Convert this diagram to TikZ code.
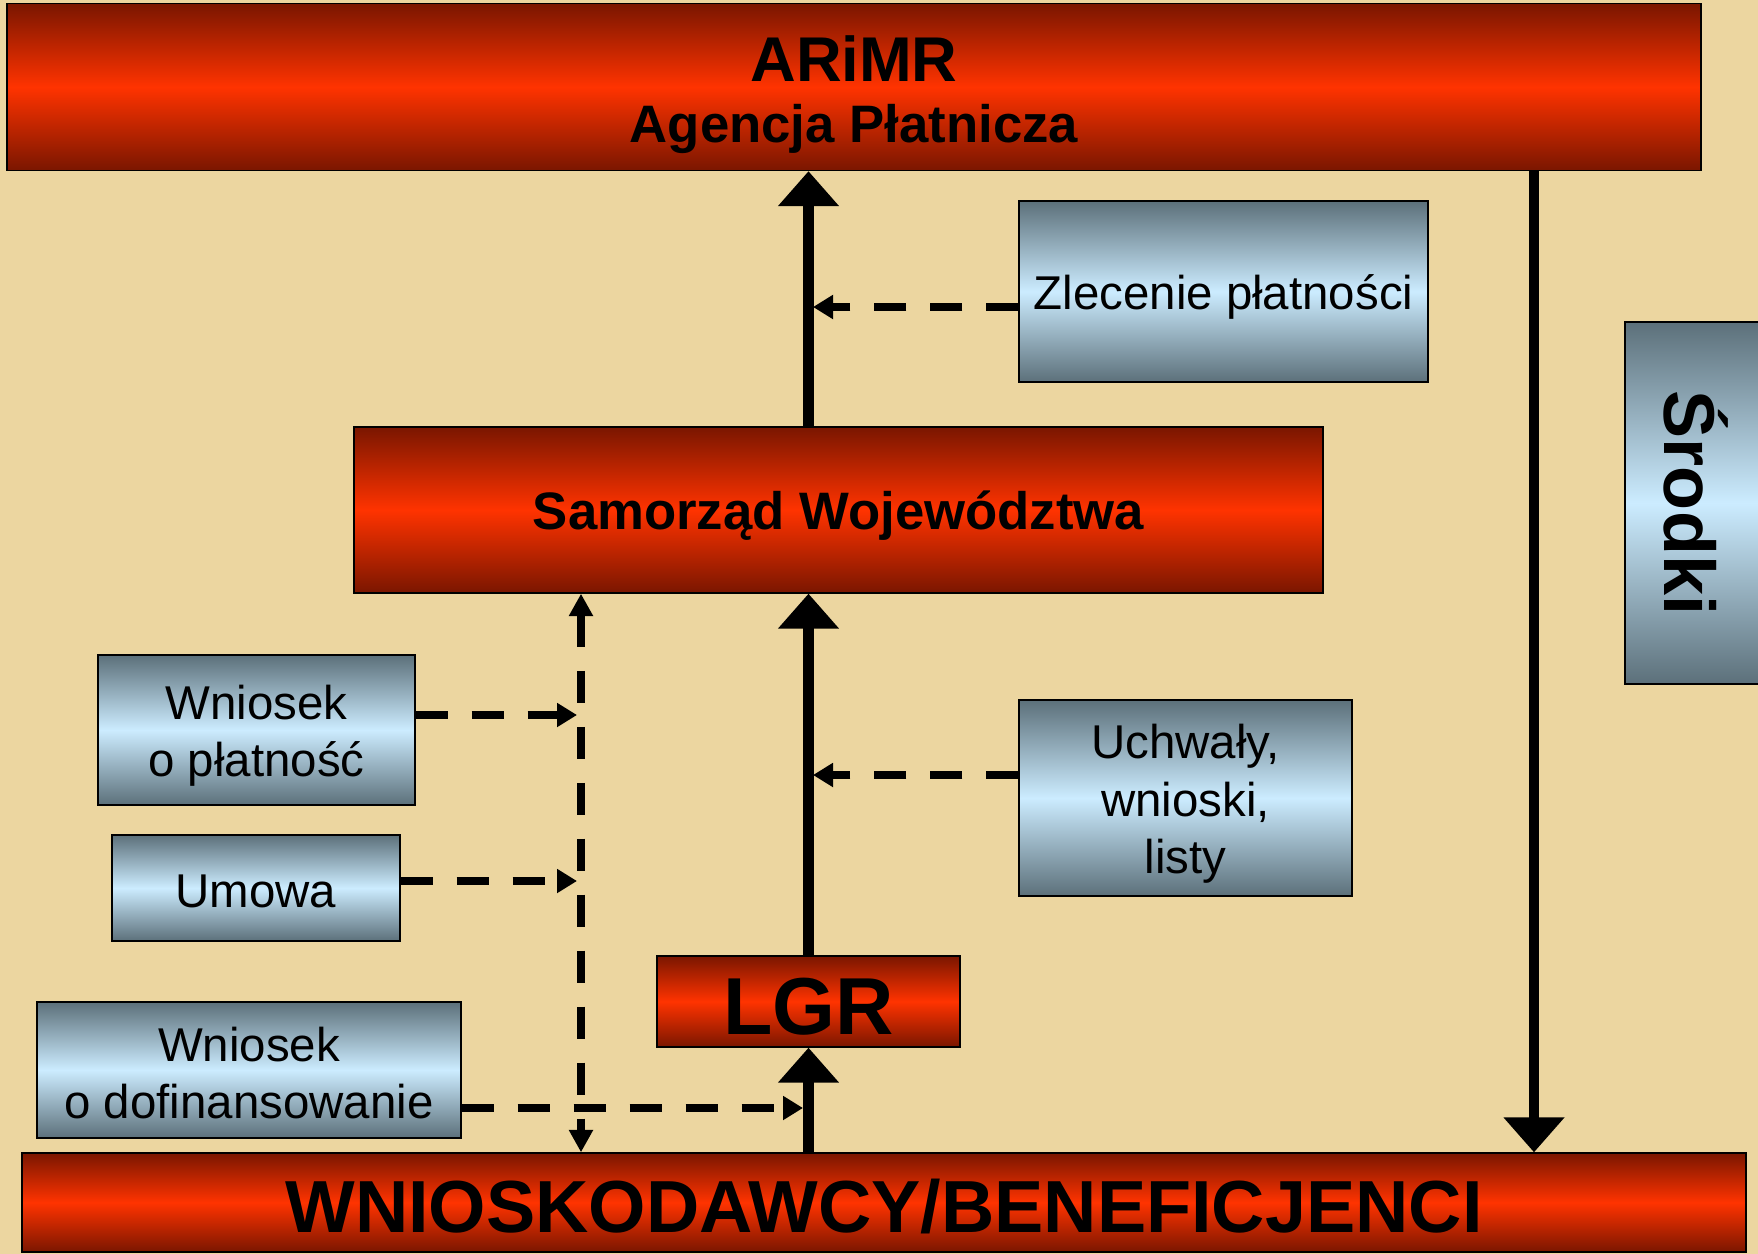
\documentclass[tikz,border=0pt]{standalone}
\usepackage{fontspec}
\setmainfont{Liberation Sans}
\usetikzlibrary{arrows.meta, positioning}
\definecolor{papyrus}{RGB}{236,214,160}
\definecolor{rdark}{RGB}{122,22,0}
\definecolor{rlight}{RGB}{255,51,0}
\definecolor{bdark}{RGB}{92,112,122}
\definecolor{blight}{RGB}{204,236,255}
\newcommand{\topstrut}{\rule{0pt}{0.966em}}
\tikzset{
    padtext/.style={execute at begin node={\topstrut}, execute at end node={\rule[-0.142em]{0pt}{0pt}}},
    redbox/.style={rectangle, draw=black, line width=0.8pt, top color=rdark, bottom color=rdark, middle color=rlight, inner sep=0pt, align=center, padtext, font=\bfseries},
    bluebox/.style={rectangle, draw=black, line width=0.8pt, top color=bdark, bottom color=bdark, middle color=blight, inner sep=0pt, align=center, padtext, font=\fontsize{27}{32.5}\selectfont},
    mainarrow/.style={line width=6.2pt, -{Triangle[length=0.7cm, width=1.18cm]}},
    dasharrow/.style={line width=4.6pt, dash pattern=on 0.64cm off 0.48cm, -{Triangle[length=0.4cm, width=0.46cm]}},
    dashboth/.style={line width=4.6pt, dash pattern=on 0.64cm off 0.48cm, {Triangle[length=0.45cm, width=0.46cm]}-{Triangle[length=0.45cm, width=0.46cm]}}
}

\begin{document}
\begin{tikzpicture}[x=0.02cm, y=-0.02cm]
            \useasboundingbox[fill=papyrus] (0,0) rectangle (1758,1254);

            % boxes
            \node[redbox, minimum width=33.88cm, minimum height=3.34cm, font=\fontsize{30}{35}\selectfont\bfseries] (arimr) at (854,87) {{\fontsize{36}{35}\selectfont\topstrut ARiMR}\\Agencja Płatnicza};
            \node[bluebox, minimum width=8.18cm, minimum height=3.62cm] (zlecenie) at (1223.5,291.5) {Zlecenie płatności};
            \node[bluebox, rotate=-90, minimum width=7.24cm, minimum height=2.76cm, font=\fontsize{41}{43}\selectfont\bfseries] (srodki) at (1694,503) {Środki};
            \node[redbox, minimum width=19.38cm, minimum height=3.32cm, font=\fontsize{30}{36}\selectfont\bfseries] (samorzad) at (838.5,510) {Samorząd Województwa};
            \node[bluebox, minimum width=6.34cm, minimum height=3.0cm] (wn_platnosc) at (256.5,730) {\topstrut Wniosek\\o płatność};
            \node[bluebox, minimum width=5.76cm, minimum height=2.12cm] (umowa) at (256,888) {Umowa};
            \node[bluebox, minimum width=8.48cm, minimum height=2.72cm] (wn_dofin) at (249,1070) {\topstrut Wniosek\\o dofinansowanie};
            \node[bluebox, minimum width=6.66cm, minimum height=3.92cm] (uchwaly) at (1185.5,798) {\topstrut Uchwały,\\wnioski,\\listy};
            \node[redbox, minimum width=6.06cm, minimum height=1.82cm, font=\fontsize{46}{48}\selectfont\bfseries] (lgr) at (808.5,1001.5) {LGR};
            \node[redbox, minimum width=34.48cm, minimum height=1.98cm, font=\fontsize{42}{44}\selectfont\bfseries] (benef) at (884,1202.5) {WNIOSKODAWCY/BENEFICJENCI};

            % points on the lines
            \coordinate (srodki_x) at (1534,0);
            \coordinate (dash_x) at (581,0);
            \coordinate (zlecenie_end) at (813,307);
            \coordinate (uchwaly_end) at (813,775);
            \coordinate (platnosc_end) at (577,715);
            \coordinate (umowa_end) at (577,881);
            \coordinate (dofin_end) at (803,1108);

            \draw[mainarrow] (samorzad.north -| lgr.north) -- (arimr.south -| lgr.north);
            \draw[mainarrow] (lgr.north) -- (samorzad.south -| lgr.north);
            \draw[mainarrow] (benef.north -| lgr.south) -- (lgr.south);
            \draw[mainarrow] (arimr.south -| srodki_x) -- (benef.north -| srodki_x);
            \draw[dashboth] (samorzad.south -| dash_x) -- (benef.north -| dash_x);

            \draw[dasharrow] (zlecenie.west |- zlecenie_end) -- (zlecenie_end);
            \draw[dasharrow] (uchwaly.west |- uchwaly_end) -- (uchwaly_end);
            \draw[dasharrow] (wn_platnosc.east |- platnosc_end) -- (platnosc_end);
            \draw[dasharrow] (umowa.east |- umowa_end) -- (umowa_end);
            \draw[dasharrow] (wn_dofin.east |- dofin_end) -- (dofin_end);
\end{tikzpicture}
\end{document}
